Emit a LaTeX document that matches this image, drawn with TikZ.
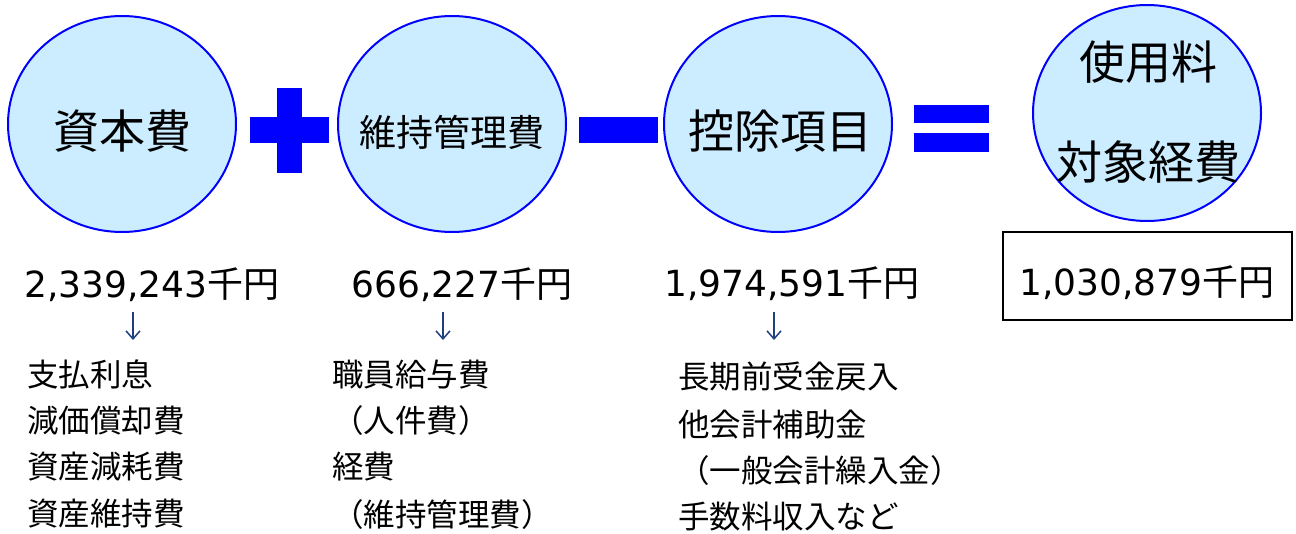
\documentclass[tikz,border=0pt]{standalone}
\usepackage{fontspec}
\setmainfont{Noto Sans CJK JP}
\newfontfamily\numfont{DejaVu Sans}
\usepackage{tikz}
\usetikzlibrary{shapes, calc, positioning, arrows.meta}
\definecolor{costfill}{HTML}{CCECFF}
\definecolor{opblue}{HTML}{0000FF}
\definecolor{arrblue}{HTML}{1F3F7F}
\newcommand*{\kyen}[1]{{\numfont #1}千円}
\tikzset{
 cost/.style={ellipse, draw=opblue, line width=2pt, fill=costfill, minimum width=228pt, minimum height=216pt, inner sep=0},
 big/.style={font=\fontsize{46}{50}\selectfont, inner sep=0},
 amount/.style={font=\fontsize{36}{40}\selectfont, inner sep=0},
 item/.style={font=\fontsize{31.5}{36}\selectfont, inner sep=0, anchor=west},
 down/.style={draw=arrblue, line width=1.5pt, -{Straight Barb[length=8pt, width=14pt]}},
 opbar/.style={fill=opblue},
}

\begin{document}
\begin{tikzpicture}[x=1pt, y=-1pt]
 \useasboundingbox (0,0) rectangle (1296,533);

 \node[cost] (C1) at (122,124) {};
 \node[cost] (C2) at (452,124) {};
 \node[cost] (C3) at (778,124) {};
 \node[cost] (C4) at (1147,113) {};

 \node[big] (T1) at ($(C1)+(0,7)$) {資本費};
 \node[big, font=\fontsize{37}{40}\selectfont] (T2) at ($(C2)+(0,8)$) {維持管理費};
 \node[big] (T3) at ($(C3)+(2,7)$) {控除項目};
 \node[big] (T4a) at ($(C4)+(1,-51)$) {使用料};
 \node[big] (T4b) at ($(C4)+(1,49)$) {対象経費};

 % operators
 \fill[opbar] (277,88) rectangle (302,173);
 \fill[opbar] (250,117) rectangle (329,143);
 \fill[opbar] (579,117) rectangle (658,143);
 \fill[opbar] (914,105) rectangle (989,123);
 \fill[opbar] (914,133) rectangle (989,152);

 % amounts
 \node[amount] (N1) at (152,285) {\kyen{2,339,243}};
 \node[amount] (N2) at (462,285) {\kyen{666,227}};
 \node[amount] (N3) at (792,284) {\kyen{1,974,591}};
 \draw[line width=2pt] (1003,232) rectangle (1292,320);
 \node[amount] (N4) at (1147,283) {\kyen{1,030,879}};

 % arrows
 \coordinate (A1) at ($(N1)+(-19,27)$);
 \coordinate (A2) at ($(N2)+(-19,27)$);
 \coordinate (A3) at ($(N3)+(-18,28)$);
 \draw[down] (A1) --++ (0,28);
 \draw[down] (A2) --++ (0,28);
 \draw[down] (A3) --++ (0,28);

 % items
 \node[item] (L1a) at (27,374) {支払利息};
 \node[item] (L1b) at (27,421) {減価償却費};
 \node[item] (L1c) at (27,467) {資産減耗費};
 \node[item] (L1d) at (27,514) {資産維持費};

 \node[item] (L2a) at (332,375) {職員給与費};
 \node[item] (L2b) at (332,421) {（人件費）};
 \node[item] (L2c) at (332,467) {経費};
 \node[item] (L2d) at (332,515) {（維持管理費）};

 \node[item] (L3a) at (678,377) {長期前受金戻入};
 \node[item] (L3b) at (678,425) {他会計補助金};
 \node[item] (L3c) at (678,471) {（一般会計繰入金）};
 \node[item] (L3d) at (678,517) {手数料収入など};
\end{tikzpicture}
\end{document}
